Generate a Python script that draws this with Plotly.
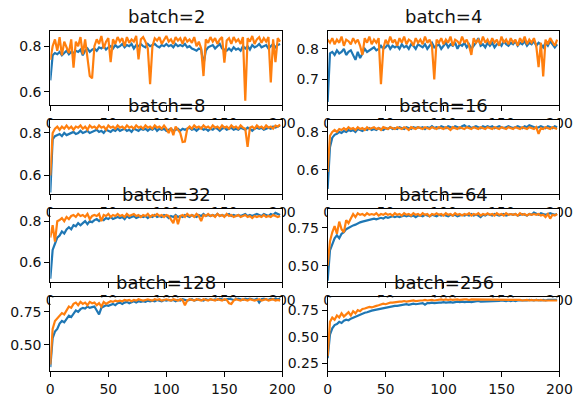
import plotly.graph_objects as go

# ---------------- data (epochs sampled every 2) ----------------
epochs = list(range(0, 200, 2))

titles = ["batch=2", "batch=4", "batch=8", "batch=16",
          "batch=32", "batch=64", "batch=128", "batch=256"]

b2_blue = [0.65, 0.76, 0.77, 0.765, 0.775, 0.76, 0.77, 0.78, 0.765, 0.775,
           0.77, 0.78, 0.775, 0.785, 0.76, 0.78, 0.79, 0.775, 0.785, 0.79,
           0.78, 0.795, 0.79, 0.80, 0.785, 0.795, 0.80, 0.79, 0.805, 0.795,
           0.80, 0.81, 0.795, 0.805, 0.80, 0.81, 0.79, 0.805, 0.80, 0.81,
           0.80, 0.795, 0.81, 0.80, 0.805, 0.81, 0.80, 0.795, 0.805, 0.80,
           0.81, 0.80, 0.805, 0.795, 0.81, 0.80, 0.805, 0.80, 0.81, 0.795,
           0.80, 0.79, 0.785, 0.78, 0.79, 0.785, 0.72, 0.78, 0.795, 0.80,
           0.805, 0.79, 0.80, 0.81, 0.79, 0.785, 0.78, 0.79, 0.78, 0.795,
           0.785, 0.79, 0.78, 0.80, 0.79, 0.80, 0.785, 0.805, 0.795, 0.80,
           0.81, 0.795, 0.80, 0.805, 0.79, 0.80, 0.81, 0.795, 0.805, 0.81]
b2_orange = [0.74, 0.80, 0.83, 0.78, 0.84, 0.76, 0.82, 0.79, 0.77, 0.83,
             0.706, 0.82, 0.80, 0.84, 0.764, 0.83, 0.76, 0.669, 0.659, 0.80,
             0.83, 0.81, 0.845, 0.79, 0.82, 0.835, 0.73, 0.83, 0.81, 0.84,
             0.82, 0.835, 0.80, 0.84, 0.815, 0.83, 0.82, 0.845, 0.742, 0.83,
             0.84, 0.82, 0.79, 0.633, 0.80, 0.835, 0.825, 0.84, 0.81, 0.83,
             0.845, 0.82, 0.83, 0.81, 0.84, 0.825, 0.835, 0.81, 0.84, 0.82,
             0.83, 0.815, 0.84, 0.80, 0.82, 0.79, 0.669, 0.83, 0.815, 0.84,
             0.82, 0.835, 0.81, 0.83, 0.84, 0.728, 0.825, 0.835, 0.81, 0.84,
             0.82, 0.83, 0.81, 0.84, 0.561, 0.835, 0.82, 0.845, 0.81, 0.83,
             0.84, 0.815, 0.835, 0.82, 0.84, 0.641, 0.83, 0.73, 0.835, 0.82]

b4_blue = [0.627, 0.785, 0.79, 0.78, 0.795, 0.785, 0.79, 0.80, 0.78, 0.79,
           0.795, 0.78, 0.764, 0.79, 0.77, 0.785, 0.80, 0.79, 0.795, 0.80,
           0.805, 0.795, 0.80, 0.81, 0.80, 0.805, 0.815, 0.80, 0.81, 0.805,
           0.81, 0.80, 0.815, 0.805, 0.81, 0.80, 0.815, 0.81, 0.80, 0.815,
           0.81, 0.805, 0.815, 0.80, 0.81, 0.82, 0.805, 0.81, 0.815, 0.80,
           0.81, 0.82, 0.805, 0.815, 0.81, 0.82, 0.80, 0.815, 0.81, 0.82,
           0.805, 0.815, 0.80, 0.81, 0.82, 0.835, 0.81, 0.815, 0.805, 0.82,
           0.81, 0.82, 0.805, 0.815, 0.82, 0.81, 0.825, 0.815, 0.81, 0.82,
           0.815, 0.825, 0.81, 0.82, 0.815, 0.825, 0.81, 0.82, 0.815, 0.825,
           0.81, 0.82, 0.815, 0.805, 0.82, 0.81, 0.825, 0.815, 0.805, 0.815]
b4_orange = [0.83, 0.82, 0.835, 0.815, 0.83, 0.82, 0.84, 0.81, 0.83, 0.825,
             0.815, 0.835, 0.82, 0.83, 0.81, 0.78, 0.835, 0.82, 0.84, 0.815,
             0.83, 0.82, 0.835, 0.685, 0.80, 0.83, 0.815, 0.84, 0.82, 0.83,
             0.81, 0.835, 0.82, 0.84, 0.815, 0.83, 0.825, 0.81, 0.835, 0.82,
             0.83, 0.815, 0.84, 0.82, 0.83, 0.81, 0.70, 0.83, 0.82, 0.835,
             0.815, 0.83, 0.82, 0.84, 0.81, 0.83, 0.825, 0.815, 0.84, 0.82,
             0.83, 0.81, 0.78, 0.835, 0.82, 0.83, 0.815, 0.84, 0.82, 0.83,
             0.815, 0.835, 0.82, 0.83, 0.81, 0.84, 0.82, 0.83, 0.815, 0.835,
             0.82, 0.83, 0.81, 0.835, 0.82, 0.84, 0.815, 0.83, 0.82, 0.835,
             0.81, 0.74, 0.82, 0.71, 0.83, 0.815, 0.835, 0.82, 0.81, 0.83]

b8_blue = [0.52, 0.77, 0.785, 0.79, 0.795, 0.785, 0.80, 0.79, 0.795, 0.80,
           0.805, 0.795, 0.80, 0.81, 0.80, 0.805, 0.81, 0.80, 0.805, 0.81,
           0.815, 0.805, 0.81, 0.80, 0.815, 0.81, 0.805, 0.815, 0.81, 0.82,
           0.81, 0.815, 0.82, 0.81, 0.815, 0.805, 0.82, 0.815, 0.81, 0.82,
           0.815, 0.82, 0.81, 0.82, 0.815, 0.825, 0.81, 0.82, 0.815, 0.82,
           0.81, 0.815, 0.82, 0.81, 0.815, 0.82, 0.81, 0.82, 0.815, 0.82,
           0.825, 0.815, 0.82, 0.81, 0.82, 0.825, 0.815, 0.82, 0.81, 0.82,
           0.815, 0.825, 0.82, 0.81, 0.82, 0.825, 0.815, 0.82, 0.825, 0.815,
           0.82, 0.815, 0.825, 0.82, 0.815, 0.825, 0.82, 0.81, 0.82, 0.825,
           0.82, 0.825, 0.815, 0.82, 0.825, 0.82, 0.83, 0.825, 0.83, 0.835]
b8_orange = [0.60, 0.80, 0.82, 0.83, 0.815, 0.83, 0.82, 0.835, 0.82, 0.83,
             0.815, 0.83, 0.825, 0.835, 0.82, 0.83, 0.815, 0.835, 0.825, 0.83,
             0.82, 0.835, 0.825, 0.83, 0.815, 0.835, 0.825, 0.83, 0.82, 0.835,
             0.825, 0.83, 0.82, 0.835, 0.825, 0.83, 0.82, 0.835, 0.825, 0.83,
             0.82, 0.835, 0.825, 0.83, 0.82, 0.835, 0.825, 0.83, 0.82, 0.835,
             0.82, 0.80, 0.825, 0.79, 0.83, 0.815, 0.80, 0.758, 0.76, 0.82,
             0.83, 0.82, 0.835, 0.825, 0.83, 0.82, 0.835, 0.825, 0.83, 0.82,
             0.835, 0.825, 0.83, 0.82, 0.835, 0.825, 0.83, 0.82, 0.835, 0.825,
             0.83, 0.82, 0.835, 0.825, 0.82, 0.735, 0.825, 0.83, 0.82, 0.835,
             0.825, 0.83, 0.82, 0.835, 0.825, 0.83, 0.82, 0.835, 0.83, 0.84]

b16_blue = [0.50, 0.72, 0.77, 0.785, 0.79, 0.80, 0.795, 0.805, 0.80, 0.81,
            0.805, 0.81, 0.80, 0.815, 0.81, 0.805, 0.815, 0.81, 0.82, 0.81,
            0.815, 0.81, 0.82, 0.815, 0.81, 0.82, 0.815, 0.825, 0.815, 0.82,
            0.815, 0.825, 0.82, 0.815, 0.825, 0.82, 0.815, 0.825, 0.82, 0.825,
            0.82, 0.825, 0.815, 0.825, 0.82, 0.83, 0.82, 0.825, 0.82, 0.83,
            0.825, 0.82, 0.83, 0.825, 0.82, 0.83, 0.825, 0.82, 0.83, 0.835,
            0.825, 0.83, 0.82, 0.825, 0.83, 0.825, 0.82, 0.83, 0.825, 0.83,
            0.825, 0.83, 0.82, 0.825, 0.83, 0.825, 0.82, 0.825, 0.83, 0.825,
            0.82, 0.825, 0.83, 0.825, 0.82, 0.83, 0.825, 0.835, 0.83, 0.825,
            0.82, 0.825, 0.83, 0.825, 0.82, 0.83, 0.825, 0.82, 0.83, 0.825]
b16_orange = [0.59, 0.78, 0.80, 0.81, 0.80, 0.815, 0.81, 0.82, 0.81, 0.825,
              0.815, 0.82, 0.81, 0.825, 0.815, 0.82, 0.81, 0.825, 0.815, 0.82,
              0.825, 0.815, 0.82, 0.81, 0.825, 0.82, 0.815, 0.825, 0.82, 0.815,
              0.825, 0.82, 0.815, 0.825, 0.82, 0.81, 0.825, 0.82, 0.815, 0.825,
              0.82, 0.815, 0.825, 0.82, 0.815, 0.825, 0.82, 0.815, 0.825, 0.82,
              0.815, 0.825, 0.82, 0.81, 0.825, 0.82, 0.815, 0.825, 0.82, 0.815,
              0.825, 0.82, 0.815, 0.825, 0.82, 0.815, 0.825, 0.82, 0.815, 0.825,
              0.82, 0.815, 0.825, 0.82, 0.815, 0.825, 0.82, 0.815, 0.825, 0.82,
              0.815, 0.825, 0.82, 0.815, 0.825, 0.82, 0.815, 0.825, 0.82, 0.815,
              0.825, 0.79, 0.82, 0.815, 0.825, 0.82, 0.815, 0.825, 0.82, 0.815]

b32_blue = [0.52, 0.66, 0.69, 0.72, 0.73, 0.75, 0.74, 0.76, 0.77, 0.76,
            0.78, 0.775, 0.79, 0.78, 0.79, 0.80, 0.785, 0.80, 0.795, 0.805,
            0.81, 0.80, 0.81, 0.805, 0.815, 0.81, 0.82, 0.81, 0.815, 0.82,
            0.815, 0.82, 0.81, 0.825, 0.815, 0.82, 0.825, 0.815, 0.82, 0.825,
            0.82, 0.825, 0.815, 0.825, 0.82, 0.83, 0.82, 0.825, 0.82, 0.83,
            0.825, 0.815, 0.825, 0.82, 0.83, 0.82, 0.825, 0.82, 0.83, 0.825,
            0.82, 0.83, 0.825, 0.82, 0.83, 0.825, 0.835, 0.825, 0.83, 0.825,
            0.83, 0.825, 0.835, 0.825, 0.83, 0.825, 0.83, 0.835, 0.825, 0.83,
            0.825, 0.83, 0.825, 0.83, 0.835, 0.825, 0.83, 0.825, 0.83, 0.835,
            0.83, 0.825, 0.835, 0.83, 0.825, 0.835, 0.83, 0.84, 0.835, 0.83]
b32_orange = [0.72, 0.78, 0.70, 0.80, 0.805, 0.815, 0.80, 0.82, 0.81, 0.825,
              0.83, 0.82, 0.835, 0.825, 0.83, 0.82, 0.835, 0.81, 0.825, 0.83,
              0.825, 0.835, 0.80, 0.83, 0.825, 0.835, 0.82, 0.83, 0.825, 0.835,
              0.825, 0.83, 0.82, 0.835, 0.825, 0.83, 0.835, 0.825, 0.83, 0.82,
              0.83, 0.825, 0.835, 0.82, 0.83, 0.825, 0.835, 0.825, 0.83, 0.82,
              0.83, 0.825, 0.81, 0.79, 0.83, 0.785, 0.825, 0.83, 0.82, 0.835,
              0.825, 0.83, 0.82, 0.835, 0.825, 0.80, 0.83, 0.825, 0.835, 0.825,
              0.83, 0.82, 0.835, 0.825, 0.83, 0.82, 0.835, 0.825, 0.83, 0.82,
              0.825, 0.83, 0.82, 0.825, 0.83, 0.82, 0.825, 0.815, 0.825, 0.82,
              0.825, 0.82, 0.83, 0.82, 0.825, 0.82, 0.83, 0.825, 0.82, 0.825]

b64_blue = [0.40, 0.60, 0.64, 0.68, 0.70, 0.68, 0.71, 0.72, 0.74, 0.75,
            0.76, 0.765, 0.77, 0.78, 0.785, 0.79, 0.795, 0.80, 0.80, 0.805,
            0.81, 0.805, 0.81, 0.815, 0.81, 0.82, 0.815, 0.82, 0.825, 0.82,
            0.825, 0.82, 0.825, 0.83, 0.825, 0.83, 0.825, 0.83, 0.82, 0.83,
            0.83, 0.825, 0.835, 0.83, 0.825, 0.835, 0.83, 0.825, 0.835, 0.83,
            0.835, 0.83, 0.825, 0.835, 0.83, 0.835, 0.825, 0.83, 0.835, 0.83,
            0.835, 0.83, 0.84, 0.83, 0.835, 0.83, 0.82, 0.835, 0.83, 0.84,
            0.835, 0.83, 0.84, 0.835, 0.83, 0.835, 0.84, 0.83, 0.835, 0.84,
            0.835, 0.84, 0.83, 0.835, 0.84, 0.835, 0.83, 0.84, 0.835, 0.85,
            0.84, 0.835, 0.845, 0.84, 0.835, 0.84, 0.845, 0.84, 0.835, 0.84]
b64_orange = [0.50, 0.66, 0.72, 0.76, 0.71, 0.79, 0.74, 0.72, 0.80, 0.78,
              0.81, 0.84, 0.82, 0.845, 0.835, 0.84, 0.83, 0.845, 0.835, 0.84,
              0.835, 0.845, 0.83, 0.84, 0.835, 0.845, 0.835, 0.84, 0.83, 0.845,
              0.835, 0.84, 0.83, 0.845, 0.835, 0.84, 0.83, 0.845, 0.835, 0.84,
              0.83, 0.845, 0.835, 0.84, 0.825, 0.84, 0.835, 0.845, 0.835, 0.84,
              0.83, 0.845, 0.835, 0.84, 0.83, 0.845, 0.835, 0.84, 0.83, 0.84,
              0.835, 0.845, 0.83, 0.84, 0.835, 0.845, 0.83, 0.84, 0.835, 0.845,
              0.835, 0.84, 0.83, 0.845, 0.835, 0.84, 0.83, 0.845, 0.835, 0.84,
              0.835, 0.84, 0.83, 0.845, 0.835, 0.84, 0.83, 0.84, 0.835, 0.84,
              0.835, 0.84, 0.83, 0.835, 0.82, 0.84, 0.81, 0.835, 0.83, 0.84]

b128_blue = [0.33, 0.55, 0.60, 0.62, 0.66, 0.68, 0.67, 0.70, 0.72, 0.71,
             0.74, 0.76, 0.75, 0.77, 0.78, 0.775, 0.79, 0.78, 0.785, 0.79,
             0.76, 0.73, 0.78, 0.79, 0.80, 0.795, 0.805, 0.81, 0.80, 0.815,
             0.82, 0.81, 0.82, 0.825, 0.815, 0.825, 0.83, 0.82, 0.83, 0.825,
             0.83, 0.825, 0.835, 0.83, 0.835, 0.83, 0.84, 0.835, 0.83, 0.84,
             0.835, 0.84, 0.835, 0.84, 0.83, 0.84, 0.835, 0.845, 0.84, 0.835,
             0.84, 0.845, 0.835, 0.84, 0.845, 0.84, 0.835, 0.845, 0.84, 0.845,
             0.84, 0.845, 0.84, 0.85, 0.845, 0.84, 0.845, 0.85, 0.845, 0.84,
             0.845, 0.85, 0.845, 0.84, 0.85, 0.845, 0.85, 0.845, 0.84, 0.85,
             0.82, 0.845, 0.85, 0.845, 0.84, 0.85, 0.845, 0.85, 0.845, 0.85]
b128_orange = [0.35, 0.62, 0.68, 0.70, 0.72, 0.74, 0.73, 0.76, 0.79, 0.78,
               0.81, 0.82, 0.80, 0.825, 0.81, 0.82, 0.80, 0.825, 0.815, 0.82,
               0.80, 0.815, 0.79, 0.825, 0.81, 0.82, 0.83, 0.825, 0.835, 0.83,
               0.835, 0.83, 0.84, 0.835, 0.84, 0.83, 0.84, 0.835, 0.845, 0.84,
               0.835, 0.84, 0.845, 0.84, 0.835, 0.845, 0.84, 0.845, 0.835, 0.84,
               0.845, 0.84, 0.835, 0.845, 0.84, 0.835, 0.845, 0.84, 0.80, 0.835,
               0.845, 0.84, 0.835, 0.845, 0.84, 0.835, 0.845, 0.84, 0.835, 0.845,
               0.84, 0.835, 0.845, 0.84, 0.835, 0.845, 0.84, 0.815, 0.81, 0.835,
               0.845, 0.84, 0.835, 0.845, 0.84, 0.835, 0.845, 0.84, 0.835, 0.84,
               0.845, 0.835, 0.84, 0.845, 0.835, 0.84, 0.845, 0.835, 0.84, 0.835]

b256_blue = [0.30, 0.52, 0.58, 0.61, 0.62, 0.64, 0.63, 0.65, 0.66, 0.655,
             0.67, 0.68, 0.69, 0.70, 0.71, 0.715, 0.725, 0.73, 0.74, 0.745,
             0.75, 0.755, 0.76, 0.765, 0.77, 0.775, 0.78, 0.78, 0.785, 0.79,
             0.79, 0.795, 0.80, 0.80, 0.805, 0.80, 0.805, 0.81, 0.805, 0.81,
             0.81, 0.815, 0.80, 0.815, 0.815, 0.82, 0.815, 0.82, 0.82, 0.82,
             0.825, 0.82, 0.825, 0.825, 0.82, 0.825, 0.83, 0.825, 0.83, 0.825,
             0.83, 0.83, 0.825, 0.83, 0.83, 0.835, 0.83, 0.83, 0.835, 0.83,
             0.835, 0.835, 0.83, 0.835, 0.835, 0.84, 0.835, 0.835, 0.84, 0.835,
             0.84, 0.835, 0.84, 0.84, 0.835, 0.84, 0.84, 0.845, 0.84, 0.84,
             0.845, 0.84, 0.84, 0.845, 0.84, 0.845, 0.845, 0.84, 0.845, 0.845]
b256_orange = [0.32, 0.64, 0.68, 0.66, 0.70, 0.68, 0.72, 0.69, 0.71, 0.73,
               0.70, 0.74, 0.72, 0.75, 0.74, 0.76, 0.765, 0.77, 0.78, 0.775,
               0.785, 0.79, 0.795, 0.80, 0.81, 0.805, 0.815, 0.82, 0.82, 0.825,
               0.825, 0.83, 0.83, 0.835, 0.83, 0.835, 0.835, 0.84, 0.835, 0.84,
               0.84, 0.84, 0.845, 0.84, 0.845, 0.845, 0.84, 0.845, 0.845, 0.85,
               0.845, 0.85, 0.845, 0.85, 0.845, 0.85, 0.85, 0.845, 0.85, 0.85,
               0.85, 0.845, 0.85, 0.85, 0.845, 0.85, 0.85, 0.845, 0.85, 0.845,
               0.85, 0.85, 0.845, 0.85, 0.845, 0.85, 0.845, 0.85, 0.845, 0.845,
               0.845, 0.85, 0.845, 0.845, 0.84, 0.845, 0.845, 0.84, 0.845, 0.84,
               0.845, 0.84, 0.845, 0.84, 0.84, 0.845, 0.84, 0.84, 0.845, 0.84]

blue_series = [b2_blue, b4_blue, b8_blue, b16_blue, b32_blue, b64_blue, b128_blue, b256_blue]
orange_series = [b2_orange, b4_orange, b8_orange, b16_orange, b32_orange, b64_orange, b128_orange, b256_orange]

x_ticks = [0, 50, 100, 150, 200]
y_ticks = [[0.6, 0.8], [0.7, 0.8], [0.6, 0.8], [0.6, 0.8],
           [0.6, 0.8], [0.50, 0.75], [0.50, 0.75], [0.25, 0.50, 0.75]]
y_fmt = [".1f", ".1f", ".1f", ".1f", ".1f", ".2f", ".2f", ".2f"]

# ---------------- layout geometry ----------------
W, H = 587, 397
y_ranges = [[0.541, 0.865], [0.616, 0.857], [0.514, 0.861], [0.474, 0.863],
            [0.502, 0.861], [0.389, 0.876], [0.30, 0.861], [0.18, 0.871]]
col_px = [(47.7, 286.7), (333.3, 572.0)]
row_px = [(31.7, 106.3), (121.2, 195.8), (210.7, 285.3), (300.2, 374.8)]

BLUE = "#1f77b4"
ORANGE = "#ff7f0e"
FONT = "DejaVu Sans"

fig = go.Figure()
layout = dict(
    width=W, height=H,
    margin=dict(l=0, r=0, t=0, b=0),
    paper_bgcolor="white", plot_bgcolor="white",
    showlegend=False,
    font=dict(family=FONT, size=13.5, color="black"),
)
annotations = []
shapes = []

for i in range(8):
    r, c = divmod(i, 2)
    n = i + 1
    xa = "x" if n == 1 else f"x{n}"
    ya = "y" if n == 1 else f"y{n}"
    x0p, x1p = col_px[c]
    t_p, b_p = row_px[r]
    xdom = [x0p / W, x1p / W]
    ydom = [1 - b_p / H, 1 - t_p / H]

    fig.add_trace(go.Scatter(x=epochs, y=blue_series[i], mode="lines",
                             line=dict(color=BLUE, width=2.2), xaxis=xa, yaxis=ya,
                             cliponaxis=True))
    fig.add_trace(go.Scatter(x=epochs, y=orange_series[i], mode="lines",
                             line=dict(color=ORANGE, width=2.2), xaxis=xa, yaxis=ya,
                             cliponaxis=True))

    common = dict(showgrid=False, zeroline=False, showline=True, linecolor="black",
                  linewidth=1, mirror=True, ticks="outside", ticklen=5, tickwidth=1,
                  tickcolor="black", tickfont=dict(family=FONT, size=14, color="#111"))
    layout["xaxis" + ("" if n == 1 else str(n))] = dict(
        domain=xdom, range=[0, 200], anchor=ya, tickvals=x_ticks, **common)
    layout["yaxis" + ("" if n == 1 else str(n))] = dict(
        domain=ydom, range=y_ranges[i], anchor=xa, tickvals=y_ticks[i],
        tickformat=y_fmt[i], **common)

    # white axes background drawn inside each subplot layer (hides labels of the panel above)
    shapes.append(dict(type="rect", xref=xa, yref=ya, layer="below",
                       x0=0, x1=200, y0=y_ranges[i][0], y1=y_ranges[i][1],
                       fillcolor="white", line=dict(width=0)))

    annotations.append(dict(text=titles[i], xref="paper", yref="paper",
                            x=(xdom[0] + xdom[1]) / 2, y=ydom[1],
                            xanchor="center", yanchor="bottom", yshift=2,
                            showarrow=False,
                            font=dict(family=FONT, size=18, color="#111")))

layout["annotations"] = annotations
layout["shapes"] = shapes
fig.update_layout(**layout)
fig.write_html("out.html")
